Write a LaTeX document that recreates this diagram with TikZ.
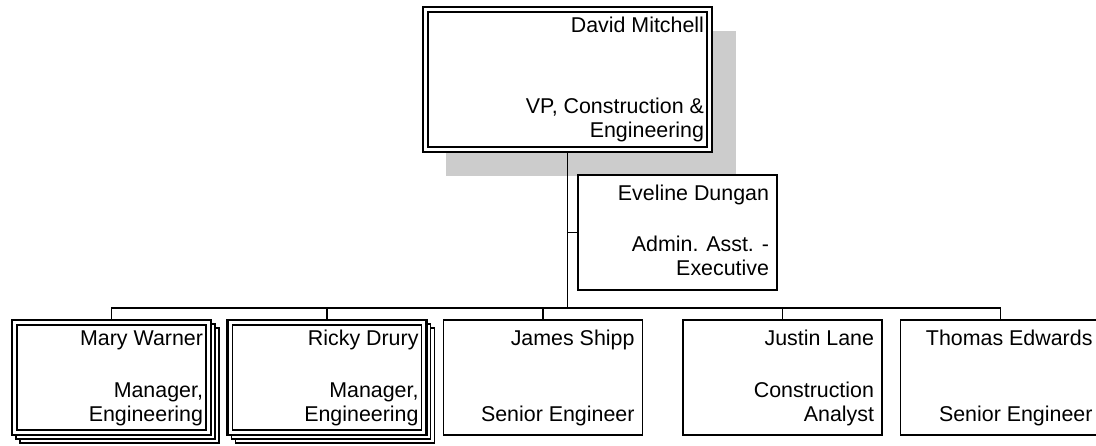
\documentclass[tikz,border=0pt]{standalone}
\usepackage{fontspec}
\setmainfont{Liberation Sans}
\usetikzlibrary{calc}
\definecolor{shadowgray}{HTML}{CCCCCC}
\begin{document}
\begin{tikzpicture}[x=1pt,y=-1pt,
  every node/.style={inner sep=0pt, outer sep=0pt},
  conn/.style={line width=1.5pt},
  box/.style={draw, line width=1.5pt, fill=white, minimum width=199pt, minimum height=115pt},
  dbox/.style={box, line width=2.2pt},
  stackbox/.style={box, line width=1.7pt},
  innerline/.style={line width=1.5pt},
  txt/.style={font=\fontsize{21.4}{24}\selectfont, align=right, anchor=base east},
]
\useasboundingbox (0,0) rectangle (1096,446);

% shadow of top box
\fill[shadowgray] (446,31) rectangle (736,176);

% top box
\node[dbox, minimum width=289pt, minimum height=145pt] (dm) at (567.5,79.5) {};
\draw[innerline] ($(dm.north west)+(5,5)$) rectangle ($(dm.south east)+(-5,-5)$);

% assistant
\node[box] (ev) at (677.5,232.5) {};

% level 2 boxes
\node[stackbox] (mwC) at (119.5,385.5) {};
\node[stackbox] (mwB) at (115.5,381.5) {};
\node[dbox] (mw) at (111.5,377.5) {};
\node[stackbox] (rdC) at (335,385.5) {};
\node[stackbox] (rdB) at (331,381.5) {};
\node[dbox] (rd) at (327,377.5) {};
\node[box] (js) at (543,377.5) {};
\node[box] (jl) at (782.5,377.5) {};
\node[box, minimum width=200pt] (te) at (1000.5,377.5) {};
\foreach \n in {mw,rd}
  \draw[innerline] ($(\n.north west)+(5,5)$) rectangle ($(\n.south east)+(-5,-5)$);

% connectors
\coordinate (bus) at (567.5,308);
\draw[conn] (dm.south) -- (bus);
\draw[conn] (ev.west) -- (ev.west -| bus);
\draw[conn] (mw.north) |- (bus) -| (te.north);
\draw[conn] (rd.north) -- (rd.north |- bus);
\draw[conn] (js.north) -- (js.north |- bus);
\draw[conn] (jl.north) -- (jl.north |- bus);

% texts
\node[txt] (dmN) at ($(dm.north east)+(-8,26)$) {David Mitchell};
\node[txt] (dmT) at ($(dm.south east)+(-8,-14)$) {VP, Construction \&\\Engineering};
\node[txt] (evN) at ($(ev.north east)+(-8,26)$) {Eveline Dungan};
\node[txt] (evT) at ($(ev.south east)+(-8,-14)$) {Admin. Asst. -\\Executive};
\node[txt] (mwN) at ($(mw.north east)+(-8,26)$) {Mary Warner};
\node[txt] (mwT) at ($(mw.south east)+(-8,-14)$) {Manager,\\Engineering};
\node[txt] (rdN) at ($(rd.north east)+(-8,26)$) {Ricky Drury};
\node[txt] (rdT) at ($(rd.south east)+(-8,-14)$) {Manager,\\Engineering};
\node[txt] (jsN) at ($(js.north east)+(-8,26)$) {James Shipp};
\node[txt] (jsT) at ($(js.south east)+(-8,-14)$) {Senior Engineer};
\node[txt] (jlN) at ($(jl.north east)+(-8,26)$) {Justin Lane};
\node[txt] (jlT) at ($(jl.south east)+(-8,-14)$) {Construction\\Analyst};
\node[txt] (teN) at ($(te.north east)+(-8,26)$) {Thomas Edwards};
\node[txt] (teT) at ($(te.south east)+(-8,-14)$) {Senior Engineer};
\end{tikzpicture}
\end{document}
